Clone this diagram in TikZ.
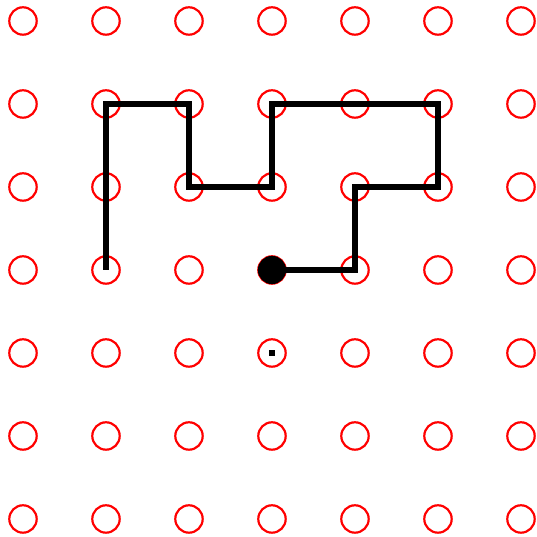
\documentclass[tikz,border=0pt]{standalone}
\usetikzlibrary{calc}
\tikzset{>=latex}
\tikzset{site/.style={circle, draw=red, line width=0.75pt, minimum size=0.33cm, inner sep=0pt}}

\begin{document}
\begin{tikzpicture}

\useasboundingbox (-0.277,-0.205) rectangle (6.193,6.253);

\foreach \x in {0,...,6}
\foreach \y in {0,...,6}
\node[site] (c-\x-\y) at (\x,\y) {};

\draw[line width=1.8pt, miter limit=10] (c-1-3.center) -- (c-1-5.center) -- (c-2-5.center) -- (c-2-4.center) -- (c-3-4.center) -- (c-3-5.center) -- (c-5-5.center) -- (c-5-4.center) -- (c-4-4.center) -- (c-4-3.center) -- (c-3-3.center);

\fill (c-3-3.center) circle (0.17);

\fill ($(c-3-2.center)+(-0.035,-0.035)$) rectangle ++(0.07,0.07);

\end{tikzpicture}
\end{document}
